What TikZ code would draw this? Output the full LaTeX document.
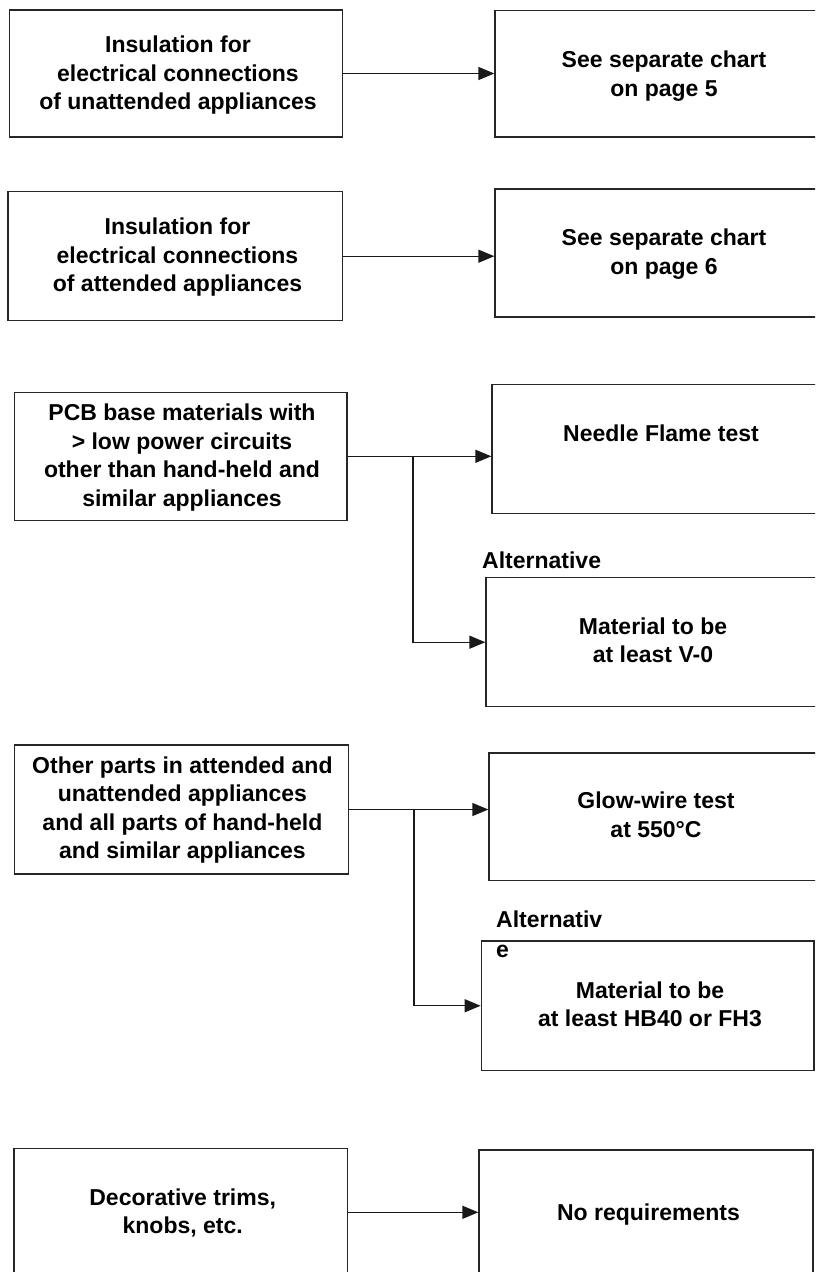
\documentclass[tikz,border=0pt]{standalone}
\usepackage{fontspec}
\setmainfont{Liberation Sans}
\usetikzlibrary{arrows.meta}
\begin{document}
\begin{tikzpicture}[x=1pt,y=-1pt,
  box/.style={draw=black!85, line width=1.3pt, rectangle, inner sep=0pt},
  lbl/.style={font=\fontsize{23}{28.5}\selectfont\bfseries, align=center, inner sep=0pt},
  alt/.style={font=\fontsize{23}{30}\selectfont\bfseries, align=left, inner sep=0pt},
  conn/.style={draw=black!90, line width=1.3pt},
  arr/.style={conn, -{Triangle[length=16pt,width=13pt]}}]
\useasboundingbox (0,0) rectangle (815,1272);
\clip (0,0) rectangle (815,1272);

% boxes
\node[box, minimum width=333pt,   minimum height=127pt]   (A1) at (176,73.5) {};
\node[box, minimum width=345pt,   minimum height=126.3pt] (B1) at (667.5,73.85) {};
\node[box, minimum width=334.5pt, minimum height=129pt]   (A2) at (175.25,256.2) {};
\node[box, minimum width=345pt,   minimum height=128pt]   (B2) at (667.5,253) {};
\node[box, minimum width=332.5pt, minimum height=128pt]   (A3) at (180.75,456.3) {};
\node[box, minimum width=348pt,   minimum height=129pt]   (B3) at (666,448.8) {};
\node[box, minimum width=354pt,   minimum height=129pt]   (C3) at (663,642.2) {};
\node[box, minimum width=334.2pt, minimum height=129pt]   (A4) at (181.6,809.5) {};
\node[box, minimum width=351pt,   minimum height=127.4pt] (B4) at (664.5,816.7) {};
\node[box, minimum width=332.7pt, minimum height=129.5pt] (C4) at (647.65,1005.75) {};
\node[box, minimum width=333.3pt, minimum height=128pt]   (A5) at (180.65,1212.3) {};
\node[box, minimum width=334pt,   minimum height=128pt]   (B5) at (646,1214) {};

% texts
\node[lbl] (t1)  at (178,75.5) {Insulation for\\electrical connections\\of unattended appliances};
\node[lbl] (t1b) at (664,76) {See separate chart\\on page 5};
\node[lbl] (t2)  at (177.5,257.5) {Insulation for\\electrical connections\\of attended appliances};
\node[lbl] (t2b) at (664,254) {See separate chart\\on page 6};
\node[lbl] (t3)  at (182,457.5) {PCB base materials with\\> low power circuits\\other than hand-held and\\similar appliances};
\node[lbl] (t3b) at (661,433) {Needle Flame test};
\node[lbl, anchor=west] (alt3) at (482,560) {Alternative};
\node[lbl] (t3c) at (653,640.5) {Material to be\\at least V-0};
\node[lbl] (t4)  at (182.4,810.2) {Other parts in attended and\\unattended appliances\\and all parts of hand-held\\and similar appliances};
\node[lbl] (t4b) at (656,815) {Glow-wire test\\at 550°C};
\node[alt, anchor=north west] (alt4) at (496,911) {Alternativ\\e};
\node[lbl] (t4c) at (650,1004.3) {Material to be\\at least HB40 or FH3};
\node[lbl] (t5)  at (182.7,1213) {Decorative trims,\\knobs, etc.};
\node[lbl] (t5b) at (648.5,1215) {No requirements};

% connectors
\coordinate (j3) at (413,456.3);
\coordinate (j4) at (414,809.5);
\draw[arr] (A1.east) -- (A1.east -| B1.west);
\draw[arr] (A2.east) -- (A2.east -| B2.west);
\draw[arr] (A3.east) -- (A3.east -| B3.west);
\draw[arr] (j3) |- (C3.west);
\draw[arr] (A4.east) -- (A4.east -| B4.west);
\draw[arr] (j4) |- (C4.west);
\draw[arr] (A5.east) -- (A5.east -| B5.west);
\end{tikzpicture}
\end{document}
